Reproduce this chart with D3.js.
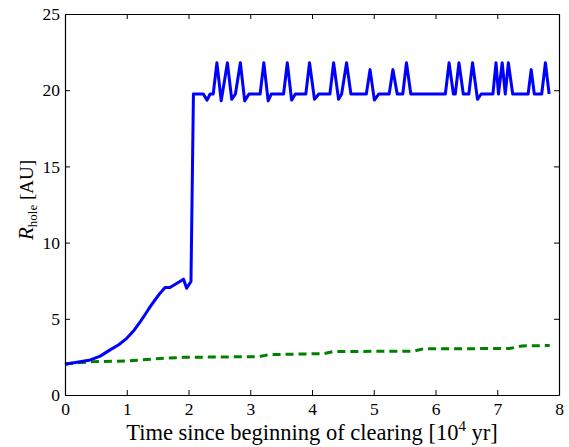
<!DOCTYPE html>
<html>
<head>
<meta charset="utf-8">
<script src="https://cdn.jsdelivr.net/npm/d3@7"></script>
<style>
body { margin: 0; background: #fff; }
text { font-family: "Liberation Serif", "DejaVu Serif", serif; fill: #000; }
</style>
</head>
<body>
<div id="chart"></div>
<script>
// hole radius vs time (10^4 yr)
var blueT = [0, 0.05, 0.41, 0.57, 0.73, 0.87, 1.0, 1.12, 1.22, 1.30, 1.38, 1.46, 1.54, 1.62, 1.70, 1.84, 1.92, 1.97, 2.04, 2.08,
    2.24, 2.30, 2.35, 2.40, 2.46, 2.53, 2.63, 2.70, 2.76, 2.84, 2.91, 2.98, 3.16, 3.22, 3.29, 3.34,
    3.54, 3.60, 3.67, 3.73, 3.90, 3.96, 4.04, 4.11, 4.29, 4.35, 4.43, 4.48, 4.56, 4.63, 4.88, 4.94,
    5.01, 5.08, 5.25, 5.31, 5.38, 5.47, 5.53, 5.60, 6.16, 6.22, 6.29, 6.32, 6.38, 6.45, 6.54, 6.60,
    6.68, 6.74, 6.93, 6.98, 7.02, 7.08, 7.13, 7.18, 7.25, 7.50, 7.55, 7.60, 7.72, 7.78, 7.84];
var blueR = [2.0, 2.05, 2.3, 2.55, 2.96, 3.3, 3.72, 4.25, 4.82, 5.3, 5.8, 6.25, 6.68, 7.05, 7.05, 7.4, 7.6, 7.0, 7.45, 19.75,
    19.75, 19.35, 19.75, 19.75, 21.8, 19.3, 21.8, 19.4, 19.75, 21.8, 19.3, 19.75, 19.75, 21.8, 19.3, 19.75,
    19.75, 21.8, 19.35, 19.75, 19.75, 21.8, 19.4, 19.75, 19.75, 21.8, 19.4, 19.75, 21.8, 19.75, 19.75, 21.35,
    19.35, 19.75, 19.75, 21.35, 19.75, 19.75, 21.8, 19.75, 19.75, 21.8, 19.75, 19.75, 21.8, 19.75, 19.75, 21.8,
    19.4, 19.75, 19.75, 21.8, 19.75, 21.8, 19.75, 21.8, 19.75, 19.75, 21.35, 19.75, 19.75, 21.8, 19.75];

var greenT = [0, 0.46, 1.0, 1.6, 1.92, 2.68, 3.15, 3.3, 4.2, 4.35, 5.65, 5.8, 7.2, 7.4, 7.85];
var greenR = [2.05, 2.19, 2.23, 2.41, 2.47, 2.5, 2.52, 2.65, 2.72, 2.85, 2.88, 3.03, 3.05, 3.22, 3.25];

var xTicks = [0, 1, 2, 3, 4, 5, 6, 7, 8];
var yTicks = [0, 5, 10, 15, 20, 25];

var W = 569, H = 447;
var m = {left: 65, right: 10, top: 14, bottom: 52};
var w = W - m.left - m.right, h = H - m.top - m.bottom;

var svg = d3.select("#chart").append("svg")
    .attr("width", W)
    .attr("height", H);

var g = svg.append("g").attr("transform", "translate(" + m.left + "," + m.top + ")");

var x = d3.scaleLinear().domain([0, 8]).range([0, w]);
var y = d3.scaleLinear().domain([0, 25]).range([h, 0]);

var line = d3.line()
    .x(function(d) { return x(d[0]); })
    .y(function(d) { return y(d[1]); });

var green = greenT.map(function(t, i) { return [t, greenR[i]]; });
var blue = blueT.map(function(t, i) { return [t, blueR[i]]; });

g.append("path")
    .datum(green)
    .attr("d", line)
    .attr("fill", "none")
    .attr("stroke", "#008000")
    .attr("stroke-width", 3)
    .attr("stroke-dasharray", "8,5");

g.append("path")
    .datum(blue)
    .attr("d", line)
    .attr("fill", "none")
    .attr("stroke", "#0000ff")
    .attr("stroke-width", 3)
    .attr("stroke-linejoin", "round");

// axes, ticks pointing inward on all four sides
var xb = g.append("g").attr("transform", "translate(0," + h + ")")
    .call(d3.axisBottom(x).tickValues(xTicks).tickSizeInner(-5).tickSizeOuter(0).tickPadding(8));
var xt = g.append("g")
    .call(d3.axisTop(x).tickValues(xTicks).tickSizeInner(-5).tickSizeOuter(0).tickFormat(""));
var yl = g.append("g")
    .call(d3.axisLeft(y).tickValues(yTicks).tickSizeInner(-5).tickSizeOuter(0).tickPadding(5));
var yr = g.append("g").attr("transform", "translate(" + w + ",0)")
    .call(d3.axisRight(y).tickValues(yTicks).tickSizeInner(-5).tickSizeOuter(0).tickFormat(""));

[xb, xt, yl, yr].forEach(function(a) {
    a.selectAll("path").attr("stroke", "#000").attr("stroke-width", 1.2);
    a.selectAll("line").attr("stroke", "#000").attr("stroke-width", 1);
    a.selectAll("text").style("font-family", "'Liberation Serif', serif").style("font-size", "17.5px").attr("fill", "#000");
});

// axis titles
var xlab = svg.append("text")
    .attr("x", m.left + w / 2)
    .attr("y", 440)
    .attr("text-anchor", "middle")
    .style("font-size", "22.5px");
xlab.append("tspan").text("Time since beginning of clearing [10");
xlab.append("tspan").attr("dy", -9).style("font-size", "15px").text("4");
xlab.append("tspan").attr("dy", 9).text(" yr]");

var ylab = svg.append("text")
    .attr("transform", "translate(33,200) rotate(-90)")
    .attr("text-anchor", "middle")
    .style("font-size", "19px");
ylab.append("tspan").style("font-style", "italic").style("font-size", "21px").text("R");
ylab.append("tspan").attr("dy", 4).style("font-size", "13px").text("hole");
ylab.append("tspan").attr("dy", -4).text(" [AU]");
</script>
</body>
</html>
